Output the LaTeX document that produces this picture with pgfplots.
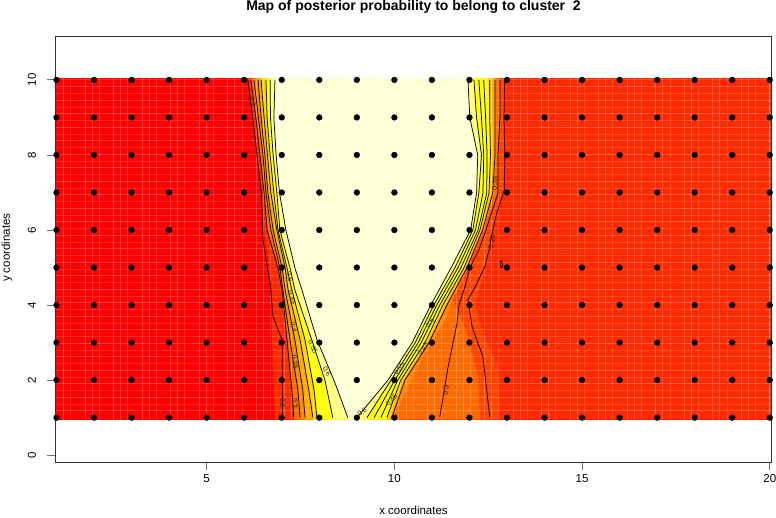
\documentclass[border=0pt]{standalone}
\usepackage{fontspec}
\setmainfont{Liberation Sans}
\usepackage{pgfplots}
\pgfplotsset{compat=1.18}
\definecolor{c0}{HTML}{FF0000}
\definecolor{c1}{HTML}{FF2A00}
\definecolor{c2}{HTML}{FF4400}
\definecolor{c3}{HTML}{FF6A00}
\definecolor{c4}{HTML}{FF8800}
\definecolor{c5}{HTML}{FFAA00}
\definecolor{c6}{HTML}{FFD400}
\definecolor{c7}{HTML}{FFFF00}
\definecolor{c8}{HTML}{FFFF80}
\definecolor{c9}{HTML}{FFFFD5}
\begin{document}
\begin{tikzpicture}
\useasboundingbox (-55pt,-55.7pt) rectangle (721pt,462.3pt);
\begin{axis}[
  at={(0pt,0pt)},anchor=south west,scale only axis,
  width=716.3pt,height=426.3pt,
  xmin=0.96,xmax=20.04,ymin=-0.19,ymax=11.17,
  axis on top,
  xtick={5,10,15,20},ytick={0,2,4,6,8,10},
  xtick pos=bottom,ytick pos=left,
  tick align=outside,major tick length=7.5pt,
  axis line style={black!80,line width=0.8pt},
  tick style={black!55,line width=0.9pt},
  /pgf/number format/assume math mode=true,
  tick label style={font=\fontsize{11.5}{13}\selectfont},
  yticklabel style={rotate=90,anchor=south,yshift=8pt},
  xticklabel style={yshift=-1.5pt},
  clip=true,
  title={},
]
% image bands (left edge top to bottom, right edge bottom to top)
\addplot[fill=c0,draw=none] coordinates {(0.96,10.05)(0.96,0.95)(20.04,0.95)(20.04,10.05)} --cycle;
\addplot[fill=c1,draw=none] coordinates {(6.10,10.05)(6.10,10)(6.23,8.99)(6.34,8.00)(6.46,6.99)(6.53,6.00)(6.66,4.99)(6.74,4.40)(6.74,3.07)(6.79,1.74)(6.82,1.0)(6.82,0.95)(20.04,0.95)(20.04,10.05)} --cycle;
\addplot[fill=c2,draw=none] coordinates {(6.18,10.05)(6.18,10)(6.31,8.99)(6.42,8.00)(6.53,6.99)(6.61,6.00)(6.90,4.99)(7.01,4.40)(7.14,3.07)(7.27,1.74)(7.32,1.0)(7.32,0.95)(12.81,0.95)(12.81,1.0)(12.76,2.35)(12.36,3.26)(12.15,4.00)(12.41,4.99)(12.62,6.00)(12.89,6.99)(12.94,8.00)(12.92,8.99)(12.92,10)(12.92,10.05)} --cycle;
\addplot[fill=c3,draw=none] coordinates {(6.18,10.05)(6.18,10)(6.31,8.99)(6.42,8.00)(6.53,6.99)(6.61,6.00)(6.90,4.99)(7.01,4.40)(7.14,3.07)(7.27,1.74)(7.32,1.0)(7.32,0.95)(12.28,0.95)(12.28,1.0)(12.23,2.08)(11.93,3.26)(11.56,4.14)(11.96,4.99)(12.38,6.00)(12.73,6.99)(12.76,8.00)(12.81,8.99)(12.81,10)(12.81,10.05)} --cycle;
\addplot[fill=c4,draw=none] coordinates {(6.26,10.05)(6.26,10)(6.38,8.99)(6.50,8.00)(6.58,6.99)(6.71,6.00)(6.95,4.99)(7.03,4.40)(7.22,3.07)(7.43,1.74)(7.49,1.0)(7.49,0.95)(9.96,0.95)(9.96,1.0)(10.76,2.62)(11.40,3.68)(11.53,4.14)(11.93,4.99)(12.36,6.00)(12.66,6.99)(12.72,8.00)(12.72,8.99)(12.72,10)(12.72,10.05)} --cycle;
\addplot[fill=c5,draw=none] coordinates {(6.37,10.05)(6.37,10)(6.45,8.99)(6.55,8.00)(6.63,6.99)(6.77,6.00)(7.01,4.99)(7.09,4.40)(7.35,3.07)(7.56,1.74)(7.62,1.0)(7.62,0.95)(9.93,0.95)(9.93,1.0)(10.28,2.00)(10.92,2.99)(11.40,4.00)(11.93,4.99)(12.35,6.00)(12.64,6.99)(12.68,8.00)(12.68,8.99)(12.68,10)(12.68,10.05)} --cycle;
\addplot[fill=c6,draw=none] coordinates {(6.45,10.05)(6.45,10)(6.53,8.99)(6.62,8.00)(6.71,6.99)(6.87,6.00)(7.09,4.99)(7.17,4.40)(7.49,3.07)(7.72,1.74)(7.83,1.0)(7.83,0.95)(9.88,0.95)(9.88,1.0)(10.23,2.00)(10.87,2.99)(11.35,4.00)(11.89,4.99)(12.32,6.00)(12.58,6.99)(12.62,8.00)(12.61,8.99)(12.61,10)(12.61,10.05)} --cycle;
\addplot[fill=c7,draw=none] coordinates {(6.58,10.05)(6.58,10)(6.61,8.99)(6.69,8.00)(6.79,6.99)(6.90,6.00)(7.14,4.99)(7.27,4.40)(7.62,3.07)(7.86,1.74)(7.94,1.0)(7.94,0.95)(9.80,0.95)(9.80,1.0)(10.17,2.00)(10.81,2.99)(11.29,4.00)(11.85,4.99)(12.28,6.00)(12.52,6.99)(12.56,8.00)(12.54,8.99)(12.50,10)(12.50,10.05)} --cycle;
\addplot[fill=c8,draw=none] coordinates {(6.69,10.05)(6.69,10)(6.70,8.99)(6.77,8.00)(6.87,6.99)(6.95,6.00)(7.22,4.99)(7.35,4.40)(7.80,3.07)(8.15,2.00)(8.36,1.0)(8.36,0.95)(9.27,0.95)(9.27,1.0)(9.91,2.00)(10.55,2.99)(11.05,4.00)(11.61,4.99)(12.09,6.00)(12.25,6.99)(12.32,8.00)(12.19,8.99)(12.12,10)(12.12,10.05)} --cycle;
\addplot[fill=c9,draw=none] coordinates {(6.82,10.05)(6.82,10)(6.79,8.99)(6.85,8.00)(6.94,6.99)(7.11,6.00)(7.35,4.99)(7.54,4.40)(7.94,3.07)(8.42,1.92)(8.76,1.0)(8.80,0.95)(9.00,0.95)(9.00,1.0)(9.83,2.00)(10.47,2.99)(10.97,4.00)(11.51,4.99)(12.03,6.00)(12.19,6.99)(12.22,8.00)(12.01,8.99)(11.96,10)(11.96,10.05)} --cycle;
% light seams of the image
\pgfplotsinvokeforeach{1.19,1.95,...,20}{\draw[white,opacity=0.22,line width=0.8pt] (axis cs:#1,0.95)--(axis cs:#1,10.05);}
\pgfplotsinvokeforeach{1.38,2.14,...,20}{\draw[white,opacity=0.15,line width=0.8pt] (axis cs:#1,0.95)--(axis cs:#1,10.05);}
\pgfplotsinvokeforeach{1.76,2.52,...,20}{\draw[white,opacity=0.22,line width=0.8pt] (axis cs:#1,0.95)--(axis cs:#1,10.05);}
\pgfplotsinvokeforeach{1.18,1.54,...,10}{\draw[white,opacity=0.22,line width=0.8pt] (axis cs:0.96,#1)--(axis cs:20.04,#1);}
\pgfplotsinvokeforeach{1.36,1.72,...,10}{\draw[white,opacity=0.15,line width=0.8pt] (axis cs:0.96,#1)--(axis cs:20.04,#1);}
% contours, left side
\pgfplotsset{cont/.style={black,line width=0.75pt,no markers,forget plot}}
\addplot[cont] coordinates {(6.10,10)(6.23,8.99)(6.34,8.00)(6.46,6.99)(6.50,5.74)(6.62,5.00)(6.69,4.59)(6.77,3.68)(7.01,3.07)(7.02,1.0)};
\addplot[cont] coordinates {(6.18,10)(6.31,8.99)(6.42,8.00)(6.53,6.99)(6.61,6.00)(6.90,4.99)(7.01,4.40)(7.14,3.07)(7.27,1.74)(7.32,1.0)};
\addplot[cont] coordinates {(6.26,10)(6.38,8.99)(6.50,8.00)(6.58,6.99)(6.71,6.00)(6.95,4.99)(7.03,4.40)(7.22,3.07)(7.43,1.74)(7.49,1.0)};
\addplot[cont] coordinates {(6.37,10)(6.45,8.99)(6.55,8.00)(6.63,6.99)(6.77,6.00)(7.01,4.99)(7.09,4.40)(7.35,3.07)(7.56,1.74)(7.62,1.0)};
\addplot[cont] coordinates {(6.45,10)(6.53,8.99)(6.62,8.00)(6.71,6.99)(6.87,6.00)(7.09,4.99)(7.17,4.40)(7.49,3.07)(7.72,1.74)(7.83,1.0)};
\addplot[cont] coordinates {(6.58,10)(6.61,8.99)(6.69,8.00)(6.79,6.99)(6.90,6.00)(7.14,4.99)(7.27,4.40)(7.62,3.07)(7.86,1.74)(7.94,1.0)};
\addplot[cont] coordinates {(6.69,10)(6.70,8.99)(6.77,8.00)(6.87,6.99)(6.95,6.00)(7.22,4.99)(7.35,4.40)(7.80,3.07)(8.15,2.00)(8.36,1.0)};
\addplot[cont] coordinates {(6.82,10)(6.79,8.99)(6.85,8.00)(6.94,6.99)(7.11,6.00)(7.35,4.99)(7.54,4.40)(7.94,3.07)(8.42,1.92)(8.76,1.0)};
% contours, right side
\addplot[cont] coordinates {(9.00,1.0)(9.83,2.00)(10.47,2.99)(10.97,4.00)(11.51,4.99)(12.03,6.00)(12.19,6.99)(12.22,8.00)(12.01,8.99)(11.96,10)};
\addplot[cont] coordinates {(9.27,1.0)(9.91,2.00)(10.55,2.99)(11.05,4.00)(11.61,4.99)(12.09,6.00)(12.25,6.99)(12.32,8.00)(12.19,8.99)(12.12,10)};
\addplot[cont] coordinates {(9.46,1.0)(10.01,2.00)(10.63,2.99)(11.13,4.00)(11.69,4.99)(12.16,6.00)(12.36,6.99)(12.38,8.00)(12.32,8.99)(12.25,10)};
\addplot[cont] coordinates {(9.64,1.0)(10.09,2.00)(10.71,2.99)(11.21,4.00)(11.77,4.99)(12.23,6.00)(12.46,6.99)(12.47,8.00)(12.43,8.99)(12.38,10)};
\addplot[cont] coordinates {(9.80,1.0)(10.17,2.00)(10.81,2.99)(11.29,4.00)(11.85,4.99)(12.28,6.00)(12.52,6.99)(12.56,8.00)(12.54,8.99)(12.54,10)};
\addplot[cont] coordinates {(9.93,1.0)(10.28,2.00)(10.92,2.99)(11.40,4.00)(11.93,4.99)(12.35,6.00)(12.62,6.99)(12.68,8.00)(12.68,8.99)(12.68,10)};
\addplot[cont] coordinates {(11.21,1.02)(11.43,2.35)(11.67,3.52)(11.72,4.00)(11.88,4.48)(12.01,4.99)(12.25,5.47)(12.44,6.00)(12.76,6.99)(12.76,8.00)(12.81,8.99)(12.81,10)};
\addplot[cont] coordinates {(12.54,1.02)(12.36,2.62)(12.07,3.42)(11.96,4.14)(12.15,4.48)(12.41,5.02)(12.52,5.47)(12.62,6.00)(12.73,6.46)(12.93,7.07)(12.94,8.00)(12.92,8.99)(12.94,10)};
\addplot[cont] coordinates {(12.81,5.15)(12.86,5.18)(12.89,5.02)(12.84,4.99)(12.81,5.15)};
% contour labels
\tikzset{cl/.style={font=\fontsize{7}{8}\selectfont,text=black!85,inner sep=0pt}}
\node[cl,rotate=-90] at (axis cs:7.02,1.39) {0.2};
\node[cl,rotate=-85] at (axis cs:7.35,1.39) {0.3};
\node[cl,rotate=-80] at (axis cs:7.35,2.49) {0.35};
\node[cl,rotate=-80] at (axis cs:7.32,3.42) {0.4};
\node[cl,rotate=-75] at (axis cs:7.27,4.19) {0.45};
\node[cl,rotate=-75] at (axis cs:7.22,4.75) {0.5};
\node[cl,rotate=-65] at (axis cs:7.83,2.88) {0.55};
\node[cl,rotate=-60] at (axis cs:8.20,2.24) {0.6};
\node[cl,rotate=40] at (axis cs:9.14,1.15) {0.6};
\node[cl,rotate=50] at (axis cs:9.93,1.47) {0.45};
\node[cl,rotate=55] at (axis cs:10.12,2.30) {0.55};
\node[cl,rotate=55] at (axis cs:10.76,2.83) {0.45};
\node[cl,rotate=55] at (axis cs:10.95,3.52) {0.5};
\node[cl,rotate=80] at (axis cs:11.37,1.74) {0.3};
\node[cl,rotate=80] at (axis cs:12.60,5.68) {0.25};
\node[cl,rotate=85] at (axis cs:12.68,7.25) {0.35};
\node[cl,rotate=-70] at (axis cs:6.21,9.41) {0.2};
% sampling sites
\addplot[only marks,mark=*,mark size=2.9pt,black,mark options={fill=black,draw=none}] coordinates {
(1,1)(2,1)(3,1)(4,1)(5,1)(6,1)(7,1)(8,1)(9,1)(10,1)(11,1)(12,1)(13,1)(14,1)(15,1)(16,1)(17,1)(18,1)(19,1)(20,1)
(1,2)(2,2)(3,2)(4,2)(5,2)(6,2)(7,2)(8,2)(9,2)(10,2)(11,2)(12,2)(13,2)(14,2)(15,2)(16,2)(17,2)(18,2)(19,2)(20,2)
(1,3)(2,3)(3,3)(4,3)(5,3)(6,3)(7,3)(8,3)(9,3)(10,3)(11,3)(12,3)(13,3)(14,3)(15,3)(16,3)(17,3)(18,3)(19,3)(20,3)
(1,4)(2,4)(3,4)(4,4)(5,4)(6,4)(7,4)(8,4)(9,4)(10,4)(11,4)(12,4)(13,4)(14,4)(15,4)(16,4)(17,4)(18,4)(19,4)(20,4)
(1,5)(2,5)(3,5)(4,5)(5,5)(6,5)(7,5)(8,5)(9,5)(10,5)(11,5)(12,5)(13,5)(14,5)(15,5)(16,5)(17,5)(18,5)(19,5)(20,5)
(1,6)(2,6)(3,6)(4,6)(5,6)(6,6)(7,6)(8,6)(9,6)(10,6)(11,6)(12,6)(13,6)(14,6)(15,6)(16,6)(17,6)(18,6)(19,6)(20,6)
(1,7)(2,7)(3,7)(4,7)(5,7)(6,7)(7,7)(8,7)(9,7)(10,7)(11,7)(12,7)(13,7)(14,7)(15,7)(16,7)(17,7)(18,7)(19,7)(20,7)
(1,8)(2,8)(3,8)(4,8)(5,8)(6,8)(7,8)(8,8)(9,8)(10,8)(11,8)(12,8)(13,8)(14,8)(15,8)(16,8)(17,8)(18,8)(19,8)(20,8)
(1,9)(2,9)(3,9)(4,9)(5,9)(6,9)(7,9)(8,9)(9,9)(10,9)(11,9)(12,9)(13,9)(14,9)(15,9)(16,9)(17,9)(18,9)(19,9)(20,9)
(1,10)(2,10)(3,10)(4,10)(5,10)(6,10)(7,10)(8,10)(9,10)(10,10)(11,10)(12,10)(13,10)(14,10)(15,10)(16,10)(17,10)(18,10)(19,10)(20,10)
};
\end{axis}
\node[font=\fontsize{14}{16}\bfseries\selectfont,anchor=base] at (358.5pt,451.5pt) {Map of posterior probability to belong to cluster\ \ 2};
\node[font=\fontsize{11.5}{13}\selectfont,anchor=base] at (358.5pt,-52.5pt) {x coordinates};
\node[font=\fontsize{11.5}{13}\selectfont,anchor=base,rotate=90] at (-45pt,214.5pt) {y coordinates};
\end{tikzpicture}
\end{document}
